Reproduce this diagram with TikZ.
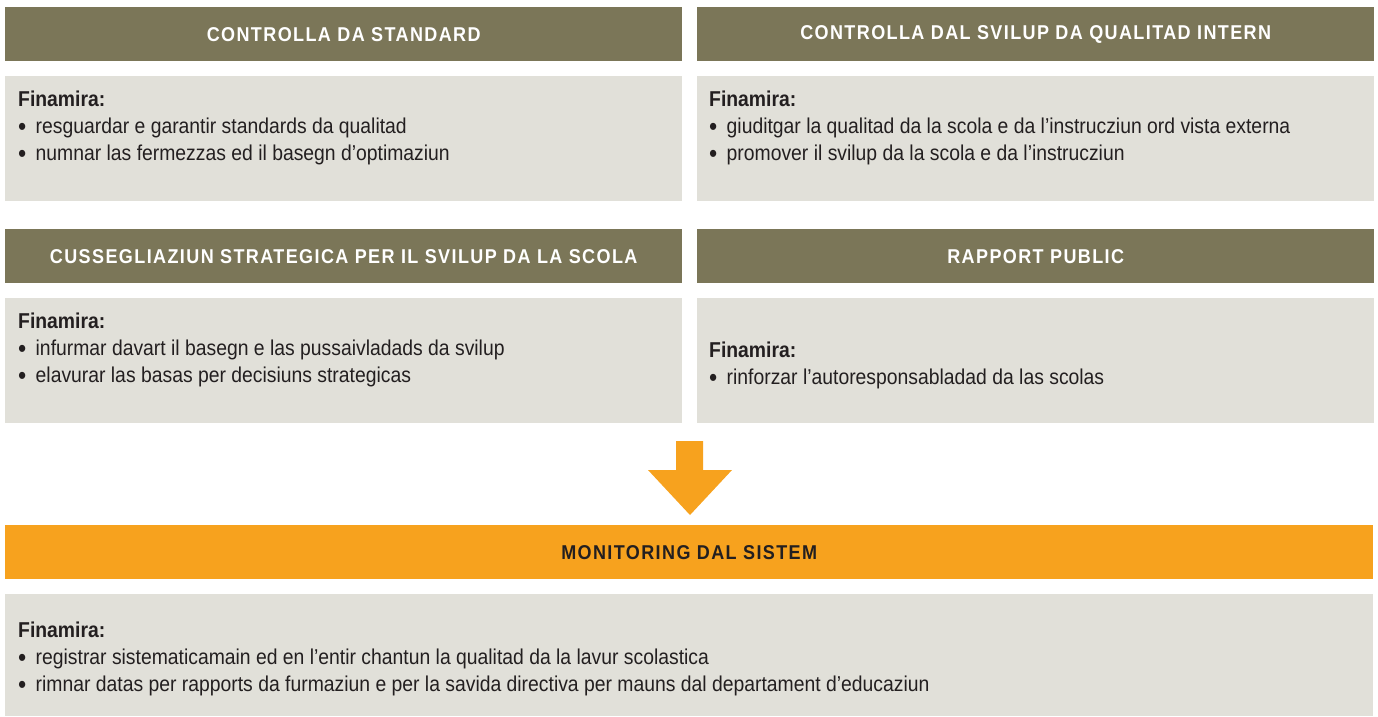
\documentclass[tikz,border=0pt]{standalone}
\usepackage{fontspec}
\setmainfont{Liberation Sans}[FakeStretch=0.9]
\newfontfamily\headfont{Liberation Sans}[FakeStretch=0.9, LetterSpace=7]
\usepackage{xcolor}

\definecolor{hdolive}{HTML}{7B7658}
\definecolor{bodygray}{HTML}{E1E0D9}
\definecolor{monorange}{HTML}{F7A21E}
\definecolor{txtdark}{HTML}{231F20}

\newcommand\itm{\makebox[17.5pt][l]{\raisebox{-2pt}{\fontsize{26}{27}\selectfont•}}}

\begin{document}
\begin{tikzpicture}[x=1pt, y=-1pt,
        head/.style={fill=hdolive, text=white, inner sep=0, anchor=north west,
            minimum width=677, minimum height=54,
            font=\headfont\bfseries\fontsize{20}{24}\selectfont},
        body/.style={fill=bodygray, inner sep=0, anchor=north west,
            minimum width=677, minimum height=125},
        txt/.style={anchor=base west, align=left, inner sep=0, text=txtdark,
            font=\fontsize{21.5}{27}\selectfont}]

    \useasboundingbox (0,0) rectangle (1378,716);

    % top row (text nodes sit on the baseline of their last line)
    \node[head] (h1) at (5,7) {CONTROLLA DA STANDARD};
    \node[head] (h2) at (697,7) {CONTROLLA DAL SVILUP DA QUALITAD INTERN};
    \node[body] (b1) at (5,76) {};
    \node[body] (b2) at (697,76) {};
    \node[txt] (t1) at (18,160) {\textbf{Finamira:}\\
        \itm resguardar e garantir standards da qualitad\\
        \itm numnar las fermezzas ed il basegn d’optimaziun};
    \node[txt] (t2) at (709,160) {\textbf{Finamira:}\\
        \itm giuditgar la qualitad da la scola e da l’instrucziun ord vista externa\\
        \itm promover il svilup da la scola e da l’instrucziun};

    % second row
    \node[head] (h3) at (5,229) {CUSSEGLIAZIUN STRATEGICA PER IL SVILUP DA LA SCOLA};
    \node[head] (h4) at (697,229) {RAPPORT PUBLIC};
    \node[body] (b3) at (5,298) {};
    \node[body] (b4) at (697,298) {};
    \node[txt] (t3) at (18,382) {\textbf{Finamira:}\\
        \itm infurmar davart il basegn e las pussaivladads da svilup\\
        \itm elavurar las basas per decisiuns strategicas};
    \node[txt] (t4) at (709,384) {\textbf{Finamira:}\\
        \itm rinforzar l’autoresponsabladad da las scolas};

    % arrow
    \coordinate (ar) at (690,441);
    \fill[monorange] (ar) ++(-14,0) -- ++(27,0) -- ++(0,29) -- ++(29,0)
        -- (690,515) -- (648,470) -- (676,470) -- cycle;

    % monitoring
    \node[head, fill=monorange, text=txtdark, minimum width=1368] (h5) at (5,525)
        {MONITORING DAL SISTEM};
    \node[body, minimum width=1368, minimum height=122] (b5) at (5,594) {};
    \node[txt] (t5) at (18,691) {\textbf{Finamira:}\\
        \itm registrar sistematicamain ed en l’entir chantun la qualitad da la lavur scolastica\\
        \itm rimnar datas per rapports da furmaziun e per la savida directiva per mauns dal departament d’educaziun};
\end{tikzpicture}
\end{document}
